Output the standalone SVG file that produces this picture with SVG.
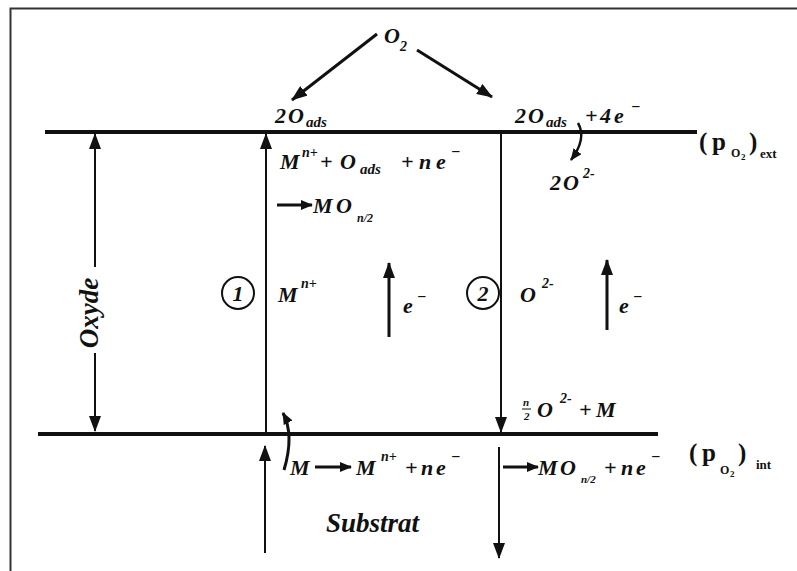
<svg xmlns="http://www.w3.org/2000/svg" width="797" height="571" viewBox="0 0 797 571">
<style>
.t{font-family:"Liberation Serif","Times New Roman",serif;font-weight:bold;font-style:italic;font-size:22px;fill:#111}
.s{font-size:15px}
.sup{font-size:14px}
.p{font-family:"Liberation Serif","Times New Roman",serif;font-weight:bold;font-size:25px;fill:#111}
.ps{font-family:"Liberation Serif","Times New Roman",serif;font-weight:bold;font-size:12px;fill:#111}
.ln{stroke:#111;fill:none}
.thick{stroke-width:4}
.thin{stroke-width:2}
.circ{fill:none;stroke:#111;stroke-width:2}
</style>
<defs>
<marker id="ah" markerWidth="16" markerHeight="12" refX="15" refY="6" orient="auto" markerUnits="userSpaceOnUse"><path d="M0,0 L16,6 L0,12 Z" fill="#111"/></marker>
<marker id="ahs" markerWidth="12" markerHeight="10" refX="11" refY="5" orient="auto" markerUnits="userSpaceOnUse"><path d="M0,0 L12,5 L0,10 Z" fill="#111"/></marker>
</defs>
<rect x="10.5" y="8.5" width="820" height="600" fill="none" stroke="#333" stroke-width="2"/>

<g id="surfaces">
<path class="ln thick" d="M45,132 H697"/>
<path class="ln thick" d="M38,434 H658"/>
</g>

<g id="connectors">
<path class="ln" stroke-width="3" d="M377,34 L292,100" marker-end="url(#ah)"/>
<path class="ln" stroke-width="3" d="M417,50 L492,97" marker-end="url(#ah)"/>
<path class="ln thin" d="M95,267 V134" marker-end="url(#ah)"/>
<path class="ln thin" d="M95,353 V431" marker-end="url(#ah)"/>
<path class="ln thin" d="M266,433 V134" marker-end="url(#ah)"/>
<path class="ln thin" d="M501,134 V432" marker-end="url(#ah)"/>
<path class="ln" stroke-width="3" d="M389,337 V263" marker-end="url(#ah)"/>
<path class="ln" stroke-width="3" d="M607,330 V260" marker-end="url(#ah)"/>
<path class="ln" stroke-width="2.5" d="M578,123 C585,135 580,148 571,160" marker-end="url(#ahs)"/>
<path class="ln" stroke-width="3" d="M284,470 C290,450 292,430 283,413" marker-end="url(#ahs)"/>
<path class="ln thin" d="M265,553 V446" marker-end="url(#ah)"/>
<path class="ln thin" d="M499,447 V558" marker-end="url(#ah)"/>
<path class="ln" stroke-width="3" d="M277,205 H312" marker-end="url(#ahs)"/>
<path class="ln" stroke-width="3" d="M315,467 H351" marker-end="url(#ahs)"/>
<path class="ln" stroke-width="3" d="M503,467 H538" marker-end="url(#ahs)"/>
</g>

<g id="o2">
<text class="t" y="43"><tspan x="384">O</tspan><tspan x="400" y="51" class="sup">2</tspan></text>
</g>

<g id="oads-left">
<text class="t" y="123"><tspan x="275">2</tspan><tspan x="288">O</tspan><tspan x="306" y="127" class="s">ads</tspan></text>
</g>

<g id="oads-right">
<text class="t" y="123"><tspan x="515">2</tspan><tspan x="528">O</tspan><tspan x="546" y="127" class="s">ads</tspan><tspan x="585" y="123">+</tspan><tspan x="600">4</tspan><tspan x="614">e</tspan><tspan x="631" y="112" style="font-size:16px">−</tspan></text>
<text class="t" y="190"><tspan x="550">2</tspan><tspan x="563">O</tspan><tspan x="583" y="178" class="sup">2-</tspan></text>
</g>

<g id="pext">
<text class="p" y="150"><tspan x="699">(</tspan><tspan x="712">p</tspan></text>
<text class="ps" y="157"><tspan x="731">O</tspan><tspan x="741" y="160" style="font-size:9px">2</tspan></text>
<text class="p" y="150"><tspan x="749">)</tspan></text>
<text class="ps" y="158" style="font-size:13px"><tspan x="760">ext</tspan></text>
</g>

<g id="reaction1">
<text class="t" y="169"><tspan x="280">M</tspan><tspan x="302" y="157" class="sup">n+</tspan><tspan x="320" y="169">+</tspan><tspan x="340">O</tspan><tspan x="360" y="174" class="s">ads</tspan><tspan x="401" y="169">+</tspan><tspan x="419">n</tspan><tspan x="436">e</tspan><tspan x="451" y="157" style="font-size:16px">−</tspan></text>
<text class="t" y="213"><tspan x="313">M</tspan><tspan x="336">O</tspan><tspan x="357" y="222" style="font-size:12px">n/2</tspan></text>
</g>

<g id="zone1">
<circle class="circ" cx="238" cy="293" r="16"/>
<text class="t" x="238" y="301" text-anchor="middle">1</text>
<text class="t" y="302"><tspan x="278">M</tspan><tspan x="301" y="288" class="sup">n+</tspan></text>
<text class="t" y="313"><tspan x="403">e</tspan><tspan x="417" y="302" style="font-size:16px">−</tspan></text>
</g>

<g id="zone2">
<circle class="circ" cx="483" cy="293" r="16"/>
<text class="t" x="483" y="301" text-anchor="middle">2</text>
<text class="t" y="302"><tspan x="520">O</tspan><tspan x="542" y="288" class="sup">2-</tspan></text>
<text class="t" y="313"><tspan x="619">e</tspan><tspan x="633" y="302" style="font-size:16px">−</tspan></text>
</g>

<g id="reaction2">
<text class="t" style="font-size:11px"><tspan x="523" y="406">n</tspan><tspan x="524" y="420">2</tspan></text>
<path class="ln" stroke-width="1" d="M522,409 H531"/>
<text class="t" y="417"><tspan x="537">O</tspan><tspan x="560" y="403" class="sup">2-</tspan><tspan x="579" y="417">+</tspan><tspan x="596">M</tspan></text>
</g>

<g id="reaction-int">
<text class="t" y="475"><tspan x="290">M</tspan><tspan x="356">M</tspan><tspan x="381" y="461" class="sup">n+</tspan><tspan x="405" y="475">+</tspan><tspan x="421">n</tspan><tspan x="436">e</tspan><tspan x="451" y="462" style="font-size:16px">−</tspan></text>
<text class="t" y="475"><tspan x="538">M</tspan><tspan x="560">O</tspan><tspan x="581" y="483" style="font-size:11px">n/2</tspan><tspan x="604" y="475">+</tspan><tspan x="621">n</tspan><tspan x="636">e</tspan><tspan x="651" y="462" style="font-size:16px">−</tspan></text>
</g>

<g id="pint">
<text class="p" y="461"><tspan x="689">(</tspan><tspan x="702">p</tspan></text>
<text class="ps" y="474"><tspan x="720">O</tspan><tspan x="730" y="477" style="font-size:9px">2</tspan></text>
<text class="p" y="461"><tspan x="738">)</tspan></text>
<text class="ps" y="469" style="font-size:13px"><tspan x="756">int</tspan></text>
</g>

<g id="substrat">
<text class="t" x="326" y="532" style="font-size:27px">Substrat</text>
</g>

<g id="oxyde">
<text class="t" transform="translate(98,313) rotate(-90)" text-anchor="middle" style="font-size:27px">Oxyde</text>
</g>
</svg>
